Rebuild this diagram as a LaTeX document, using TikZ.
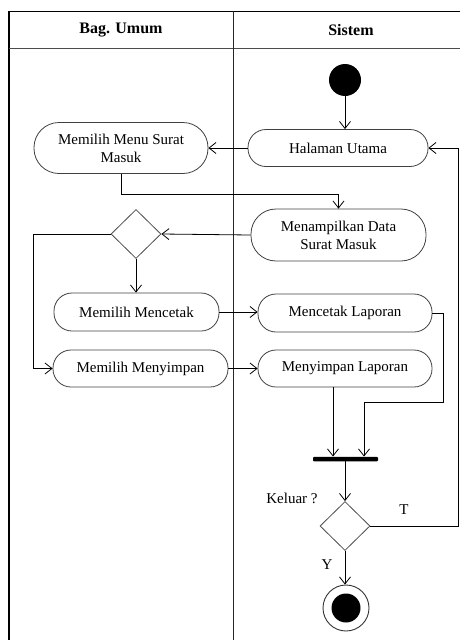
\documentclass[tikz,border=0pt]{standalone}
\usepackage{fontspec}
\setmainfont{Liberation Serif}
\usetikzlibrary{shapes.geometric,arrows.meta,calc}
\begin{document}
\begin{tikzpicture}[x=1pt,y=-1pt,
  txt/.style={font=\fontsize{15}{18}\selectfont},
  act/.style={draw=black!75,line width=0.8pt,rectangle,rounded corners=18pt,inner sep=0pt,align=center,txt},
  tall/.style={act,rounded corners=25pt},
  dec/.style={draw=black!70,line width=0.8pt,diamond,inner sep=0pt,minimum width=50pt,minimum height=49pt},
  arr/.style={line width=0.8pt,-{Straight Barb[length=7pt,width=11pt]}},
  ln/.style={line width=0.8pt},
  hdr/.style={font=\fontsize{16}{19}\selectfont\bfseries}]
\useasboundingbox (0,0) rectangle (460,640);
% swimlane frame
\draw[line width=1.6pt] (9,11) -- (9,640);
\draw[line width=1pt] (9,11) -- (460,11);
\draw[line width=0.9pt,black!70] (9,48) -- (460,48);
\draw[line width=0.9pt,black!85] (233,11) -- (233,640);
\node[hdr] (h1) at (121,30) {Bag. Umum};
\node[hdr] (h2) at (351,30) {Sistem};
% nodes
\node[circle,fill=black,minimum size=32pt,inner sep=0pt] (start) at (345,80) {};
\node[act,minimum width=180pt,minimum height=37pt] (hal) at (338,148) {Halaman Utama};
\node[tall,minimum width=174pt,minimum height=51pt] (menu) at (121,148) {Memilih Menu Surat\\Masuk};
\node[tall,minimum width=175pt,minimum height=52pt] (tampil) at (338.5,235) {Menampilkan Data\\Surat Masuk};
\node[dec] (d1) at (136,234) {};
\node[act,minimum width=165pt,minimum height=38pt] (cetak1) at (136.5,312) {Memilih Mencetak};
\node[act,minimum width=174pt,minimum height=38pt] (cetak2) at (345,313) {Mencetak Laporan};
\node[act,minimum width=175pt,minimum height=37pt] (simpan1) at (140.5,368.5) {Memilih Menyimpan};
\node[act,minimum width=174pt,minimum height=37pt] (simpan2) at (345,368.5) {Menyimpan Laporan};
\node[rectangle,fill=black,minimum width=65pt,minimum height=4.5pt,inner sep=0pt,rounded corners=1pt] (bar) at (345.5,459) {};
\node[dec] (d2) at (345,526) {};
\node[circle,draw=black!80,line width=0.9pt,minimum size=46pt,inner sep=0pt] (end) at (346,608) {};
\node[circle,fill=black,minimum size=29pt,inner sep=0pt] (endin) at (346,608) {};
% labels
\node[txt] (lk) at (292,498) {Keluar ?};
\node[txt] (lt) at (404,510) {T};
\node[txt] (ly) at (327,565) {Y};
% connectors
\draw[arr] (start.south) -- (start.south |- hal.north);
\draw[arr] (hal.west) -- (menu.east);
\draw[arr] (menu.south) -- ++(0,20) -| (tampil.north);
\draw[arr] (tampil.west) -- (d1.east);
\draw[arr] (d1.west) -- ++(-77,0) |- (simpan1.west);
\draw[arr] (d1.south) -- (d1.south |- cetak1.north);
\draw[arr] (cetak1.east) -- (cetak1.east -| cetak2.west);
\draw[arr] (simpan1.east) -- (simpan2.west);
\draw[arr] (cetak2.east) -| ++(11,89) -| ([xshift=18.5pt]bar.north);
\draw[arr] ([xshift=-12pt]simpan2.south) -- ([xshift=-12pt]simpan2.south |- bar.north);
\draw[arr] (bar.south -| d2.north) -- (d2.north);
\draw[arr] (d2.east) -- ++(88,0) |- (hal.east);
\draw[arr] (d2.south) -- (d2.south |- end.north);
\end{tikzpicture}
\end{document}
